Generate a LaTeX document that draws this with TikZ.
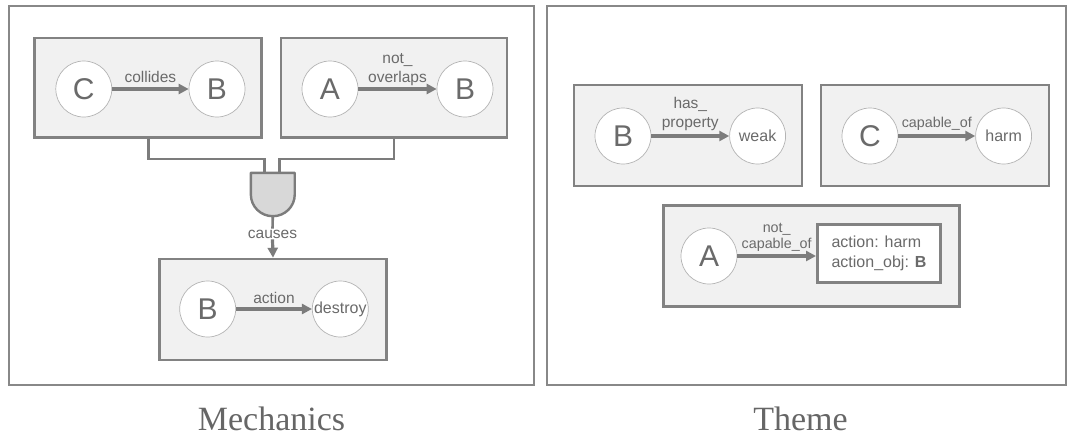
\documentclass[tikz,border=0pt]{standalone}
\usepackage{fontspec}
\setmainfont{Liberation Serif}
\setsansfont{Liberation Sans}
\usetikzlibrary{arrows.meta}

\definecolor{framegray}{HTML}{888888}
\definecolor{boxgray}{HTML}{828282}
\definecolor{boxfill}{HTML}{F1F1F1}
\definecolor{ringgray}{HTML}{B4B4B4}
\definecolor{linegray}{HTML}{7C7C7C}
\definecolor{inkgray}{HTML}{6A6A6A}
\definecolor{titlegray}{HTML}{666666}
\definecolor{gatefill}{HTML}{D8D8D8}

\begin{document}
\begin{tikzpicture}[x=1pt,y=-1pt,
  panel/.style={rectangle,draw=framegray,line width=2.5pt,inner sep=0pt},
  group/.style={rectangle,draw=boxgray,fill=boxfill,line width=2.6pt,inner sep=0pt},
  ent/.style={circle,draw=ringgray,line width=0.7pt,fill=white,minimum size=56pt,
    inner sep=0pt,text=inkgray,font=\sffamily\fontsize{30}{30}\selectfont},
  val/.style={ent,font=\sffamily\fontsize{16}{16}\selectfont},
  rel/.style={draw=linegray,line width=3.2pt,-{Triangle[length=10pt,width=10pt]}},
  wire/.style={draw=linegray,line width=2.6pt},
  lbl/.style={text=inkgray,font=\sffamily\fontsize{15.5}{19}\selectfont,
    align=center,inner sep=0pt},
  lblsmall/.style={lbl,font=\sffamily\fontsize{14.3}{16}\selectfont},
  title/.style={text=titlegray,font=\fontsize{34}{34}\selectfont,inner sep=0pt}
]
\useasboundingbox (0,0) rectangle (1068,437);

% ---------- outer panels ----------
\node[panel,minimum width=525pt,minimum height=379pt] (mech) at (271.5,195.5) {};
\node[panel,minimum width=519pt,minimum height=379pt] (theme) at (806.5,195.5) {};
\node[title,anchor=base] (mechT) at (271.5,430) {Mechanics};
\node[title,anchor=base] (themeT) at (800.5,430) {Theme};

% ---------- Mechanics: preconditions ----------
\node[group,minimum width=227pt,minimum height=99.5pt] (g1) at (148.2,87.8) {};
\node[group,minimum width=226pt,minimum height=99.5pt] (g2) at (394,87.8) {};

\node[ent] (c1) at (83.8,89) {C};
\node[ent] (b1) at (217,89) {B};
\draw[rel] (c1) -- (b1) node[lbl,midway,yshift=12pt] (l1) {collides};

\node[ent] (a2) at (330,89) {A};
\node[ent] (b2) at (465,89) {B};
\draw[rel] (a2) -- (b2) node[lbl,midway,yshift=19pt] (l2) {not\_\\overlaps};

% ---------- AND gate ----------
\node[inner sep=0pt,minimum width=43.5pt,minimum height=43pt] (gate) at (272.8,194.5) {};
\draw[draw=linegray,fill=gatefill,line width=2.4pt,line join=round]
  (gate.north west) -- (gate.west)
  .. controls +(0,12.1) and +(-12.1,0) .. (gate.south)
  .. controls +(12.1,0) and +(0,12.1) .. (gate.east)
  -- (gate.north east) -- cycle;

\draw[wire] (g1.south) -- ++(0,20.2) -| ([xshift=-8.4pt]gate.north);
\draw[wire] (g2.south) -- ++(0,20.2) -| ([xshift=6.6pt]gate.north);

% ---------- Mechanics: effect ----------
\node[group,minimum width=227.4pt,minimum height=101pt] (g3) at (273,309.5) {};
\node[lbl] (cz) at (272.5,234) {causes};
\draw[wire] (gate.south) -- ([yshift=1pt]cz.north);
\draw[rel] ([yshift=-1pt]cz.south) -- (g3.north);

\node[ent] (b3) at (207.7,309) {B};
\node[val] (d3) at (340.3,309) {destroy};
\draw[rel] (b3) -- (d3) node[lbl,midway,yshift=11pt] (l3) {action};

% ---------- Theme ----------
\node[group,minimum width=228pt,minimum height=101pt] (g4) at (688,135.5) {};
\node[ent] (b4) at (623,136) {B};
\node[val] (w4) at (757.6,136) {weak};
\draw[rel] (b4) -- (w4) node[lbl,midway,yshift=22pt] (l4) {has\_\\property};

\node[group,minimum width=228pt,minimum height=101pt] (g5) at (935,135.5) {};
\node[ent] (c5) at (870,136) {C};
\node[val] (h5) at (1003.6,136) {harm};
\draw[rel] (c5) -- (h5) node[lblsmall,midway,yshift=12pt] (l5) {capable\_of};

\node[group,minimum width=296pt,minimum height=101pt] (g6) at (811.4,256.2) {};
\node[ent] (a6) at (709,256) {A};
\node[rectangle,draw=boxgray,fill=white,line width=2.6pt,inner sep=0pt,
  minimum width=123.4pt,minimum height=58.4pt,align=left,text=inkgray,
  font=\sffamily\fontsize{16}{20}\selectfont] (ib) at (879,253.5)
  {action: harm\\action\_obj: \textbf{B}};
\draw[rel] (a6.east) -- (a6.east -| ib.west)
  node[lblsmall,midway,yshift=19pt] (l6) {not\_\\capable\_of};
\end{tikzpicture}
\end{document}
